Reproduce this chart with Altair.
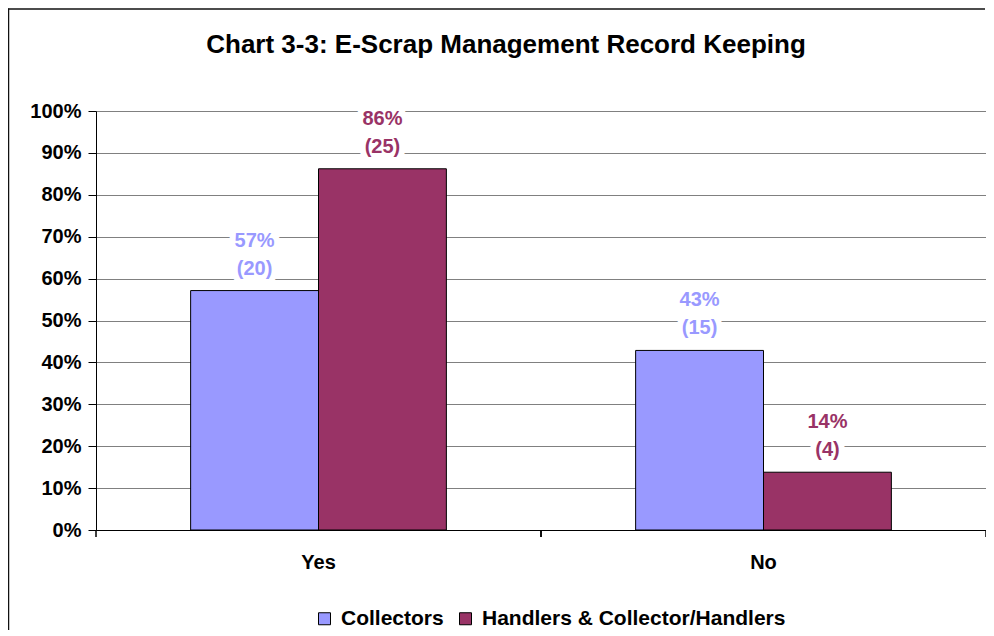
import altair as alt
import pandas as pd

answers = ["Yes", "No"]
series = ["Collectors", "Handlers & Collector/Handlers"]
collectors_counts = [20, 15]
collectors_total = 35
handlers_counts = [25, 4]
handlers_total = 29
colors = ["#9999FF", "#993366"]
y_ticks = [0, 0.1, 0.2, 0.3, 0.4, 0.5, 0.6, 0.7, 0.8, 0.9, 1.0]

rows = []
for i, a in enumerate(answers):
    for s, cnt, tot in ((series[0], collectors_counts[i], collectors_total),
                        (series[1], handlers_counts[i], handlers_total)):
        v = cnt / tot
        rows.append({"answer": a, "series": s, "value": v, "count": cnt,
                     "label": f"{round(v * 100):.0f}%\n({cnt})"})
df = pd.DataFrame(rows)

FONT = "Liberation Sans"
W, H = 890, 419

x_axis = alt.Axis(title=None, labelAngle=0, ticks=False, labelPadding=22,
                  labelFontSize=20, labelFontWeight="bold", labelColor="black",
                  domainColor="black", labelFont=FONT, grid=False)
x_scale = alt.Scale(paddingInner=0, paddingOuter=0)
x_enc = alt.X("answer:N", sort=answers, scale=x_scale, axis=x_axis)
xo_enc = alt.XOffset("series:N", sort=series,
                     scale=alt.Scale(paddingInner=0, paddingOuter=0.74))
y_enc = alt.Y("value:Q", scale=alt.Scale(domain=[0, 1], nice=False),
              axis=alt.Axis(title=None, values=y_ticks, format=".0%",
                            labelFontSize=20, labelFontWeight="bold",
                            labelColor="black", labelFont=FONT, labelPadding=7,
                            tickSize=8, tickColor="black", domainColor="black",
                            gridColor="#808080", gridOpacity=1))
color_enc = alt.Color("series:N", sort=series,
                      scale=alt.Scale(domain=series, range=colors),
                      legend=alt.Legend(title=None, orient="none", legendX=218,
                                        legendY=497, direction="horizontal",
                                        symbolType="square", symbolSize=144,
                                        symbolStrokeColor="black",
                                        symbolStrokeWidth=1, symbolOpacity=1,
                                        labelFontSize=21, labelFontWeight="bold",
                                        labelFont=FONT, labelColor="black",
                                        labelLimit=0,
                                        labelOffset=6, columnPadding=11,
                                        padding=0))

base = alt.Chart(df)

bars = base.mark_bar(stroke="black", strokeWidth=1).encode(
    x=x_enc, xOffset=xo_enc, y=y_enc, color=color_enc)

mask = base.mark_text(lineBreak="\n", baseline="middle", dy=-50, fontSize=20,
                      fontWeight="bold", font=FONT, lineHeight=28,
                      fill="white", stroke="white", strokeWidth=12,
                      strokeJoin="round").encode(
    x=x_enc, xOffset=xo_enc, y=y_enc, text="label:N")

labels = base.mark_text(lineBreak="\n", baseline="middle", dy=-50, fontSize=20,
                        fontWeight="bold", font=FONT, lineHeight=28).encode(
    x=x_enc, xOffset=xo_enc, y=y_enc, text="label:N", color=color_enc)

ticks0 = base.mark_rule(color="black", strokeWidth=1).encode(
    x=alt.X("answer:N", sort=answers, bandPosition=0, scale=x_scale, axis=x_axis),
    y=alt.value(H), y2=alt.value(H + 7))
ticks1 = base.mark_rule(color="black", strokeWidth=1).encode(
    x=alt.X("answer:N", sort=answers, bandPosition=1, scale=x_scale, axis=x_axis),
    y=alt.value(H), y2=alt.value(H + 7))

frame_df = pd.DataFrame({"f": [0]})
frame_left = alt.Chart(frame_df).mark_rule(
    color="#111111", strokeWidth=1.5, clip=False).encode(
    x=alt.value(-87.5), y=alt.value(-102.5), y2=alt.value(H + 120))
frame_top = alt.Chart(frame_df).mark_rule(
    color="#111111", strokeWidth=1.5, clip=False).encode(
    x=alt.value(-88), x2=alt.value(W - 1), y=alt.value(-102))

chart = alt.layer(frame_left, frame_top, bars, ticks0, ticks1, mask, labels).properties(
    width=W, height=H,
    title=alt.TitleParams("Chart 3-3: E-Scrap Management Record Keeping",
                          font=FONT, fontSize=26, fontWeight="bold",
                          color="black", anchor="middle", dx=-35,
                          baseline="alphabetic", offset=-71),
    autosize=alt.AutoSizeParams(type="none"),
    padding={"left": 88, "top": 103, "right": 0, "bottom": 100},
).configure_view(stroke="#808080", strokeWidth=1).configure(background="white")

chart.save("out.html", embed_options={"renderer": "svg", "actions": False})
